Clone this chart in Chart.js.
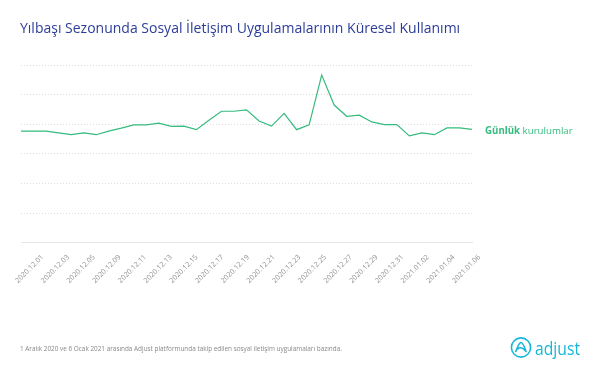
<!DOCTYPE html>
<html><head><meta charset="utf-8">
<script src="https://cdn.jsdelivr.net/npm/chart.js@4.4.0/dist/chart.umd.min.js"></script>
<style>
html,body{margin:0;padding:0;background:#fff;}
#wrap{position:relative;width:600px;height:372px;overflow:hidden;font-family:"Open Sans",sans-serif;}
#title{position:absolute;left:20px;top:18px;font-size:14px;color:#2c3d98;white-space:nowrap;letter-spacing:0px;}
#note{position:absolute;left:20px;top:344px;font-size:6.4px;color:#888;white-space:nowrap;}
#logo{position:absolute;left:509px;top:335px;}
canvas{position:absolute;left:0;top:0;}
</style></head>
<body><div id="wrap">
<canvas id="c" width="600" height="372"></canvas>
<div id="title">Yılbaşı Sezonunda Sosyal İletişim Uygulamalarının Küresel Kullanımı</div>
<div id="note">1 Aralık 2020 ve 6 Ocak 2021 arasında Adjust platformunda takip edilen sosyal iletişim uygulamaları bazında.</div>
<svg id="logo" width="80" height="26" viewBox="0 0 80 26">
  <circle cx="12" cy="12.5" r="9.6" fill="none" stroke="#17b6d8" stroke-width="1.6"/>
  <path d="M6.8 16.5 C8.5 12, 10 7.5, 12 7.5 C14 7.5, 15.5 12, 17 16.5 M8.8 13.8 C11 11.8, 14 12.5, 17 16.5" fill="none" stroke="#17b6d8" stroke-width="1.6" stroke-linecap="round"/>
  <text x="26" y="20" font-size="19" fill="#17b6d8" font-family="Open Sans" textLength="45" lengthAdjust="spacingAndGlyphs">adjust</text>
</svg>
</div>
<script>
const days = ["2020.12.01","2020.12.02","2020.12.03","2020.12.04","2020.12.05","2020.12.06","2020.12.07","2020.12.08","2020.12.09","2020.12.10","2020.12.11","2020.12.12","2020.12.13","2020.12.14","2020.12.15","2020.12.16","2020.12.17","2020.12.18","2020.12.19","2020.12.20","2020.12.21","2020.12.22","2020.12.23","2020.12.24","2020.12.25","2020.12.26","2020.12.27","2020.12.28","2020.12.29","2020.12.30","2020.12.31","2021.01.01","2021.01.02","2021.01.03","2021.01.04","2021.01.05","2021.01.06"];
const dailyInstalls = [3.77,3.77,3.77,3.71,3.65,3.71,3.65,3.77,3.87,3.98,3.98,4.04,3.93,3.94,3.82,4.14,4.44,4.44,4.49,4.11,3.94,4.37,3.82,3.98,5.66,4.65,4.27,4.31,4.08,3.99,3.99,3.61,3.71,3.65,3.88,3.88,3.83];
const tickLabels = ["2020.12.01","2020.12.03","2020.12.05","2020.12.09","2020.12.11","2020.12.13","2020.12.15","2020.12.17","2020.12.19","2020.12.21","2020.12.23","2020.12.25","2020.12.27","2020.12.29","2020.12.31","2021.01.02","2021.01.04","2021.01.06"];
const seriesBold = "Günlük";
const seriesRest = " kurulumlar";

const green = "#35bb7e";

const endLabel = {
  id: "endLabel",
  afterDatasetsDraw(chart) {
    const meta = chart.getDatasetMeta(0);
    const last = meta.data[meta.data.length - 1];
    const ctx = chart.ctx;
    ctx.save();
    ctx.textBaseline = "middle";
    ctx.fillStyle = green;
    const x = chart.chartArea.right + 13;
    const y = last.y + 2;
    ctx.font = "bold 9.7px 'Open Sans'";
    ctx.fillText(seriesBold, x, y);
    const w = ctx.measureText(seriesBold).width;
    ctx.font = "9.7px 'Open Sans'";
    ctx.fillText(seriesRest, x + w, y);
    ctx.restore();
  }
};

new Chart(document.getElementById("c"), {
  type: "line",
  data: {
    labels: days,
    datasets: [{
      data: dailyInstalls,
      borderColor: green,
      borderWidth: 1.2,
      pointRadius: 0,
      tension: 0,
      fill: false,
      xAxisID: "x",
      yAxisID: "y"
    }]
  },
  options: {
    responsive: false,
    animation: false,
    layout: { padding: { left: 21, right: 128, top: 65, bottom: 85 } },
    plugins: { legend: { display: false }, tooltip: { enabled: false } },
    scales: {
      x: { type: "category", display: false },
      xl: {
        type: "linear",
        position: "bottom",
        min: -0.837,
        max: 16.71,
        afterBuildTicks(scale) { scale.ticks = tickLabels.map((l, i) => ({ value: i })); },
        grid: { display: false },
        border: { display: true, color: "#e6e6e6", width: 1 },
        ticks: {
          autoSkip: false,
          minRotation: 45,
          maxRotation: 45,
          padding: 2,
          color: "#8f8f8f",
          font: { size: 7.2, family: "'Open Sans'" },
          callback: (v, i) => tickLabels[i]
        }
      },
      y: {
        min: 0,
        max: 6,
        ticks: { display: false, stepSize: 1 },
        grid: { color: "#dedede", lineWidth: 1, drawTicks: false },
        border: { display: false, dash: [1, 2] }
      }
    }
  },
  plugins: [endLabel]
});
</script>
</body></html>
